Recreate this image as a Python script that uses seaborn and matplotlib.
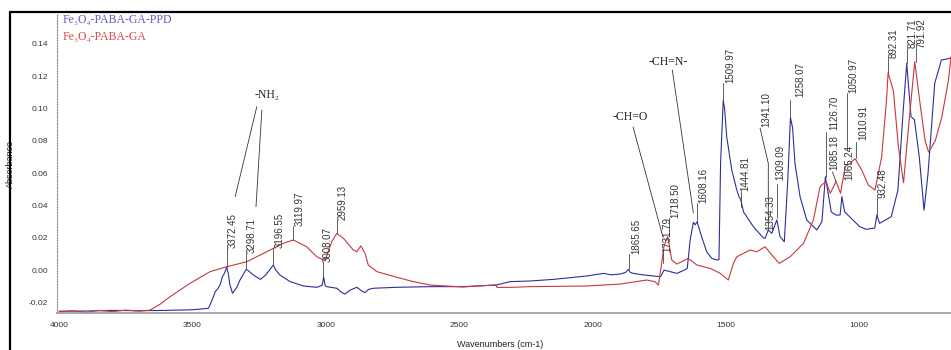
import matplotlib
matplotlib.use("Agg")
import pandas as pd
import matplotlib.pyplot as plt
import seaborn as sns
from matplotlib.lines import Line2D
from matplotlib.ticker import MultipleLocator, FormatStrFormatter

# Spectra (wavenumber cm-1, absorbance)
ppd_wn = [4000, 3900, 3800, 3700, 3600, 3500, 3440, 3425, 3415, 3405, 3395, 3388, 3380,
          3372, 3366, 3360, 3350, 3335, 3322, 3299, 3290, 3272, 3245, 3225, 3197, 3188,
          3172, 3134, 3084, 3034, 3014, 3008, 3003, 2997, 2959, 2940, 2928, 2910, 2884,
          2865, 2853, 2840, 2822, 2734, 2610, 2485, 2360, 2310, 2234, 2147, 2022, 1959,
          1930, 1897, 1876, 1866, 1858, 1847, 1810, 1772, 1745, 1738, 1732, 1722, 1709,
          1684, 1655, 1645, 1634, 1622, 1615, 1608, 1591, 1572, 1553, 1534, 1526, 1520,
          1510, 1505, 1497, 1478, 1460, 1450, 1445, 1434, 1397, 1360, 1353, 1341, 1328,
          1309, 1297, 1281, 1268, 1258, 1250, 1241, 1222, 1197, 1159, 1140, 1127, 1105,
          1087, 1072, 1065, 1055, 1024, 998, 973, 942, 934, 924, 880, 855, 836, 822, 806,
          793, 775, 757, 742, 717, 692, 661, 651]
ppd_abs = [-0.0255, -0.0254, -0.0250, -0.0252, -0.0250, -0.0246, -0.0237, -0.0180, -0.0135,
           -0.0115, -0.0085, -0.0040, -0.0020, 0.0017, -0.0020, -0.0090, -0.0144, -0.0110,
           -0.0062, 0.0004, -0.0005, -0.0031, -0.0058, -0.0030, 0.0031, 0.0000, -0.0031,
           -0.0072, -0.0099, -0.0107, -0.0095, -0.0045, -0.0095, -0.0103, -0.0113, -0.0140,
           -0.0149, -0.0125, -0.0107, -0.0130, -0.0140, -0.0120, -0.0113, -0.0107, -0.0103,
           -0.0103, -0.0093, -0.0072, -0.0068, -0.0058, -0.0037, -0.0021, -0.0030, -0.0025,
           -0.0015, 0.0004, -0.0015, -0.0021, -0.0030, -0.0037, -0.0041, -0.0020, 0.0000,
           -0.0005, -0.0010, -0.0021, 0.0000, 0.0010, 0.0186, 0.0295, 0.0280, 0.0299, 0.0206,
           0.0113, 0.0072, 0.0062, 0.0065, 0.0662, 0.1050, 0.1000, 0.0825, 0.0619, 0.0500,
           0.0450, 0.0440, 0.0360, 0.0268, 0.0200, 0.0196, 0.0248, 0.0227, 0.0310, 0.0206,
           0.0175, 0.0557, 0.0945, 0.0880, 0.0660, 0.0454, 0.0310, 0.0248, 0.0300, 0.0578,
           0.0360, 0.0340, 0.0340, 0.0454, 0.0360, 0.0310, 0.0268, 0.0252, 0.0260, 0.0340,
           0.0289, 0.0330, 0.0495, 0.0970, 0.1280, 0.0950, 0.0930, 0.0700, 0.0370, 0.0600,
           0.1156, 0.1300, 0.1310, 0.1320]

ga_wn = [4000, 3950, 3900, 3850, 3800, 3750, 3700, 3659, 3620, 3584, 3509, 3434, 3372, 3297,
         3222, 3160, 3122, 3072, 3034, 3003, 2978, 2959, 2934, 2897, 2884, 2869, 2853, 2841,
         2809, 2734, 2672, 2609, 2485, 2362, 2358, 2297, 2234, 2022, 1897, 1797, 1766, 1753,
         1741, 1732, 1718, 1703, 1684, 1641, 1609, 1559, 1522, 1491, 1472, 1459, 1409, 1384,
         1353, 1322, 1300, 1259, 1209, 1172, 1147, 1134, 1124, 1109, 1087, 1070, 1053, 1034,
         1016, 991, 966, 941, 916, 897, 892, 872, 853, 834, 816, 792, 772, 753, 740, 715, 690,
         665, 656]
ga_abs = [-0.0258, -0.0252, -0.0262, -0.0250, -0.0258, -0.0248, -0.0255, -0.0248, -0.0210,
          -0.0165, -0.0082, -0.0010, 0.0020, 0.0051, 0.0113, 0.0165, 0.0186, 0.0144, 0.0082,
          0.0058, 0.0175, 0.0227, 0.0196, 0.0124, 0.0113, 0.0149, 0.0103, 0.0031, -0.0010,
          -0.0045, -0.0072, -0.0093, -0.0105, -0.0092, -0.0108, -0.0107, -0.0103, -0.0099,
          -0.0087, -0.0062, -0.0072, -0.0093, 0.0041, 0.0150, 0.0206, 0.0062, 0.0037, 0.0072,
          0.0031, 0.0010, -0.0020, -0.0062, 0.0041, 0.0082, 0.0124, 0.0113, 0.0144, 0.0082,
          0.0041, 0.0082, 0.0165, 0.0310, 0.0516, 0.0536, 0.0547, 0.0475, 0.0547, 0.0475,
          0.0640, 0.0660, 0.0690, 0.0620, 0.0526, 0.0495, 0.0700, 0.1070, 0.1220, 0.1110,
          0.0760, 0.0540, 0.0870, 0.1290, 0.1030, 0.0800, 0.0730, 0.0800, 0.0950, 0.1180,
          0.1320]

series_names = ["Fe\u2083O\u2084-PABA-GA-PPD", "Fe\u2083O\u2084-PABA-GA"]
series_colors = ["#2b2f9c", "#c8383c"]
legend_colors = ["#5a5ac8", "#d84848"]

peak_labels = ["3372.45", "3298.71", "3196.55", "3119.97", "3008.07", "2959.13",
               "1865.65", "1731.79", "1718.50", "1608.16", "1509.97", "1444.81",
               "1341.10", "1354.33", "1309.09", "1258.07", "1126.70", "1085.18",
               "1065.24", "1050.97", "1010.91", "932.48", "892.31", "821.71", "791.92"]
# placement of each label: line x, line from, line to, text x, text bottom
peak_place = [
    (3372, 0.0019, 0.0136, 3348, 0.0136),
    (3299, 0.0006, 0.0103, 3277, 0.0103),
    (3197, 0.0031, 0.0134, 3172, 0.0134),
    (3123, 0.0186, 0.0275, 3097, 0.0275),
    (3011, -0.0043, 0.0051, 2992, 0.0051),
    (2959, 0.0229, 0.0310, 2939, 0.0310),
    (1863, 0.0006, 0.0099, 1837, 0.0099),
    (1736, 0.0043, 0.0113, 1720, 0.0113),
    (1712, 0.0210, 0.0325, 1688, 0.0325),
    (1609, 0.0299, 0.0415, 1586, 0.0415),
    (1510, 0.1050, 0.1157, 1484, 0.1157),
    (1443, 0.0392, 0.0490, 1428, 0.0490),
    (None, 0, 0, 1349, 0.0885),
    (None, 0, 0, 1334, 0.0248),
    (1309, 0.0320, 0.0530, 1297, 0.0557),
    (1259, 0.0947, 0.1050, 1222, 0.1070),
    (1124, 0.0576, 0.0854, 1094, 0.0867),
    (None, 0, 0, 1094, 0.0619),
    (None, 0, 0, 1038, 0.0557),
    (1047, 0.0743, 0.1096, 1023, 0.1096),
    (1012, 0.0693, 0.0794, 986, 0.0805),
    (932, 0.0340, 0.0446, 911, 0.0446),
    (891, 0.1220, 0.1310, 873, 0.1310),
    (820, 0.1280, 0.1374, 799, 0.1374),
    (787, 0.1288, 0.1374, 768, 0.1374),
]
# slanted leader lines (wavenumbers, absorbances)
leaders = [
    ([3340, 3259], [0.0454, 0.1011]),
    ([3262, 3240], [0.0392, 0.0990]),
    ([1848, 1736], [0.0885, 0.0204]),
    ([1701, 1622], [0.1238, 0.0353]),
    ([1372, 1341, 1341], [0.0879, 0.0660, 0.0248]),
    ([1087, 1100], [0.0547, 0.0607]),
]
group_labels = ["-NH\u2082", "-CH=O", "-CH=N-"]
group_pos = [(3221, 0.1083), (1859, 0.0947), (1716, 0.1288)]

df = pd.concat([
    pd.DataFrame({"wn": ppd_wn, "A": ppd_abs, "sample": series_names[0]}),
    pd.DataFrame({"wn": ga_wn, "A": ga_abs, "sample": series_names[1]}),
])

sns.set_style("white")
plt.rcParams["font.family"] = ["Liberation Sans", "DejaVu Sans"]

fig = plt.figure(figsize=(9.51, 3.5), dpi=100)
ax = fig.add_axes([56.5 / 951, 1 - 313.3 / 350, 1 - 56.5 / 951, (313.3 - 14) / 350])

sns.lineplot(data=df, x="wn", y="A", hue="sample", palette=series_colors,
             sort=False, estimator=None, legend=False, linewidth=0.8, ax=ax)

ax.set_xlim(4010, 656)
ax.set_ylim(-0.0268, 0.1585)
ax.xaxis.set_major_locator(MultipleLocator(500))
ax.xaxis.set_minor_locator(MultipleLocator(100))
ax.yaxis.set_major_locator(MultipleLocator(0.02))
ax.yaxis.set_minor_locator(MultipleLocator(0.005))
ax.yaxis.set_major_formatter(FormatStrFormatter("%.2f"))
ax.xaxis.set_major_formatter(FormatStrFormatter("%d"))

for s in ["top", "right"]:
    ax.spines[s].set_visible(False)
ax.spines["left"].set_color("#888888")
ax.spines["left"].set_linestyle((0, (1, 1.5)))
ax.spines["left"].set_linewidth(0.8)
ax.spines["bottom"].set_color("#999999")
ax.spines["bottom"].set_linewidth(1.2)
ax.tick_params(which="major", direction="out", length=4, width=0.7, color="#777777",
               labelsize=6, labelcolor="#333333", pad=2)
ax.tick_params(which="minor", direction="out", length=2, width=0.5, color="#888888")
ax.set_xlabel("Wavenumbers (cm-1)", fontsize=6.5, color="#222222")
ax.set_ylabel("Absorbance", fontsize=6.5, color="#222222")
ax.xaxis.set_label_coords(0.496, -0.088)
ax.yaxis.set_label_coords(-0.046, 0.5)

# peak labels
for lab, (lx, y0, y1, tx, ty) in zip(peak_labels, peak_place):
    if lx is not None:
        ax.plot([lx, lx], [y0, y1], color="#444444", lw=0.6)
    ax.text(tx, ty, lab, rotation=90, ha="center", va="bottom", fontsize=7,
            color="#333333", clip_on=False)

for xs, ys in leaders:
    ax.plot(xs, ys, color="#333333", lw=0.6)

for lab, (gx, gy) in zip(group_labels, group_pos):
    ax.text(gx, gy, lab, ha="center", va="center", fontsize=8.5, color="#222222",
            family=["Liberation Serif", "DejaVu Serif"])

# sample names at top left
for i, (name, c) in enumerate(zip(series_names, legend_colors)):
    fig.text(63 / 951, 1 - (20 + 16.7 * i) / 350, name, ha="left", va="center",
             fontsize=8.5, color=c, family=["Liberation Serif", "DejaVu Serif"])

# outer frame
fig.add_artist(Line2D([9.5 / 951, 9.5 / 951], [0, 1 - 11.5 / 350], color="black", lw=1.6))
fig.add_artist(Line2D([9.5 / 951, 1], [1 - 11.5 / 350, 1 - 11.5 / 350], color="black", lw=1.6))

fig.savefig("out.png", dpi=100)
